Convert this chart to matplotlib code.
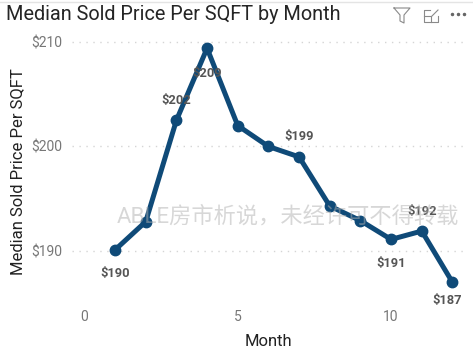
import matplotlib
matplotlib.use('Agg')
import matplotlib.pyplot as plt
from matplotlib.lines import Line2D
from matplotlib.transforms import Affine2D

plt.rcParams['font.family'] = ['Roboto', 'Noto Sans CJK SC', 'DejaVu Sans']

months = [1, 2, 3, 4, 5, 6, 7, 8, 9, 10, 11, 12]
prices = [190.1, 192.8, 202.5, 209.4, 202.0, 200.0, 199.0, 194.3, 192.9, 191.1, 191.9, 187.0]
y_ticks = [190, 200, 210]
x_ticks = [0, 5, 10]

# month -> label text and its offset from the point, in points
labels = {
    1: ('$190', (0, -17)),
    3: ('$202', (0, 14)),
    4: ('$209', (0, -18)),
    7: ('$199', (0, 15)),
    10: ('$191', (0, -17)),
    11: ('$192', (0, 14)),
    12: ('$187', (-4, -13)),
}

W, H = 473, 356
fig = plt.figure(figsize=(W / 100, H / 100), dpi=100)
ax = fig.add_axes([72 / W, 1 - 300 / H, (465 - 72) / W, (300 - 30) / H])
ax.set_xlim(-0.404, 12.41)
ax.set_ylim(185.3, 211.15)

ax.plot(months, prices, color='#0f4a78', lw=3.6, marker='o', ms=7.5, solid_joinstyle='round')

for m, (txt, off) in labels.items():
    ax.annotate(txt, (m, prices[m - 1]), xytext=off, textcoords='offset points',
                ha='center', va='center', fontsize=9.3, fontweight='bold', color='#555555')

ax.set_xticks(x_ticks)
ax.set_yticks(y_ticks)
ax.set_yticklabels(['$%d' % v for v in y_ticks])
ax.tick_params(length=0, labelsize=10, labelcolor='#777777', pad=7)
ax.tick_params(axis='x', pad=7)
ax.grid(axis='y', color='#d5d5d5', lw=1, ls=(0, (1, 4)))
ax.set_axisbelow(True)
for s in ax.spines.values():
    s.set_visible(False)

ax.set_xlabel('Month', fontsize=12, color='#222222')
ax.xaxis.set_label_coords(0.50, -0.152)
ax.xaxis.label.set_va('center')
ax.set_ylabel('Median Sold Price Per SQFT', fontsize=12, color='#222222')
ax.yaxis.set_label_coords(-0.1385, 0.474)
ax.yaxis.label.set_va('center')

fig.text(6 / W, 1 - 15 / H, 'Median Sold Price Per SQFT by Month', fontsize=14.3,
         color='#252525', ha='left', va='center')

# watermark
fig.text(288 / W, 1 - 217 / H, 'ABLE房市析说，未经许可不得转载', fontsize=16,
         color='#b0b0b0', alpha=0.5, ha='center', va='center', zorder=5)

# header icons, in pixels from the top left
px = Affine2D().scale(1, -1).translate(0, H)
icons = [
    ([394, 410, 404, 404, 400, 400, 394], [8, 8, 15, 23, 21, 15, 8]),
    ([430, 424, 424, 438, 438], [10, 10, 22, 22, 16]),
    ([424, 431, 431], [16, 16, 22]),
    ([432, 438], [16, 10]),
]
for xs, ys in icons:
    fig.add_artist(Line2D(xs, ys, color='#8a8a8a', lw=0.8, transform=px))
fig.add_artist(Line2D([452, 458, 464], [14, 14, 14], color='#666666', lw=0, marker='o', ms=1.5, transform=px))
fig.add_artist(Line2D([0, W], [2, 2], color='#e4e4e4', lw=1, transform=px))

fig.savefig('out.png', dpi=100)
